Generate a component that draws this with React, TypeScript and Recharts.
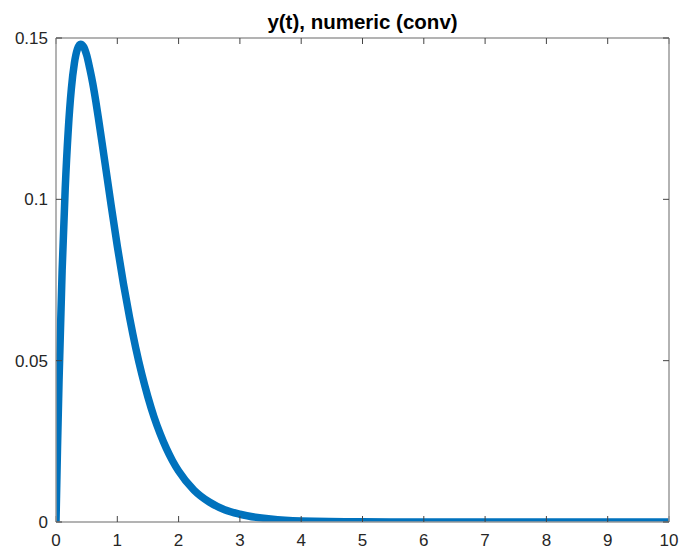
import React from "react";
import { LineChart, Line, XAxis, YAxis } from "recharts";

const tValues = [
  0, 0.025, 0.05, 0.1, 0.15, 0.2, 0.25, 0.3, 0.35, 0.4, 0.45, 0.5, 0.55, 0.6, 0.65, 0.7, 0.75, 0.8, 0.9, 1.0,
  1.1, 1.2, 1.3, 1.4, 1.5, 1.6, 1.7, 1.8, 1.9, 2.0, 2.25, 2.5, 2.75, 3.0, 3.5, 4.0, 5.0, 6.0, 7.0, 8.0, 9.0, 10.0,
];
const yValues = [
  0, 0.0235, 0.0441, 0.0779, 0.1032, 0.1215, 0.1342, 0.1422, 0.1466, 0.1481, 0.1473, 0.1447, 0.1406, 0.1359,
  0.1303, 0.1241, 0.1177, 0.1112, 0.0981, 0.0855, 0.0739, 0.0634, 0.054, 0.0458, 0.0387, 0.0325, 0.0273,
  0.0228, 0.019, 0.0158, 0.0099, 0.0062, 0.0038, 0.0024, 0.0009, 0.0003, 0.00005, 0.00001, 0, 0, 0, 0,
];
const xTicks = [0, 1, 2, 3, 4, 5, 6, 7, 8, 9, 10];
const yTicks = [0, 0.05, 0.1, 0.15];
const yTickLabels = ["0", "0.05", "0.1", "0.15"];
const titleText = "y(t), numeric (conv)";

const data = tValues.map((t, i) => ({ t, y: yValues[i] }));

const FONT = '"Liberation Sans", Arial, Helvetica, sans-serif';
const AXIS_COLOR = "#9a9a9a";
const TICK_COLOR = "#444";
const LABEL_COLOR = "#262626";

export default function App() {
  const tickStyle = { fontSize: 17, fill: LABEL_COLOR, fontFamily: FONT };
  return (
    <div style={{ position: "absolute", left: 0, top: 0, width: 682, height: 550, background: "#fff", fontFamily: FONT }}>
      <div
        style={{
          position: "absolute",
          left: 56,
          width: 613,
          top: 12,
          lineHeight: "20px",
          fontSize: 20.5,
          fontWeight: "bold",
          textAlign: "center",
          color: "#000",
          fontFamily: FONT,
        }}
      >
        {titleText}
      </div>
      <LineChart width={682} height={550} data={data} margin={{ top: 0, right: 0, bottom: 0, left: 0 }}>
        <XAxis
          dataKey="t"
          type="number"
          domain={[0, 10]}
          ticks={xTicks}
          allowDataOverflow
          height={28}
          tickSize={-6}
          tickMargin={18}
          tick={tickStyle}
          axisLine={{ stroke: AXIS_COLOR, strokeWidth: 1.5 }}
          tickLine={{ stroke: TICK_COLOR }}
        />
        <XAxis
          xAxisId="top"
          orientation="top"
          dataKey="t"
          type="number"
          domain={[0, 10]}
          ticks={xTicks}
          allowDataOverflow
          height={38}
          tickSize={-6}
          tickFormatter={() => ""}
          axisLine={{ stroke: AXIS_COLOR, strokeWidth: 1.5 }}
          tickLine={{ stroke: TICK_COLOR }}
        />
        <YAxis
          type="number"
          domain={[0, 0.15]}
          ticks={yTicks}
          allowDataOverflow
          width={56}
          tickSize={-6}
          tickMargin={14}
          tick={tickStyle}
          tickFormatter={(v: number) => yTickLabels[yTicks.indexOf(v)] ?? String(v)}
          axisLine={{ stroke: AXIS_COLOR, strokeWidth: 1.5 }}
          tickLine={{ stroke: TICK_COLOR }}
        />
        <YAxis
          yAxisId="right"
          orientation="right"
          type="number"
          domain={[0, 0.15]}
          ticks={yTicks}
          allowDataOverflow
          width={13}
          tickSize={-6}
          tickFormatter={() => ""}
          axisLine={{ stroke: AXIS_COLOR, strokeWidth: 1.5 }}
          tickLine={{ stroke: TICK_COLOR }}
        />
        <Line
          dataKey="y"
          type="monotone"
          stroke="#0072BD"
          strokeWidth={7.5}
          dot={false}
          isAnimationActive={false}
          strokeLinejoin="round"
          strokeLinecap="butt"
        />
      </LineChart>
    </div>
  );
}
